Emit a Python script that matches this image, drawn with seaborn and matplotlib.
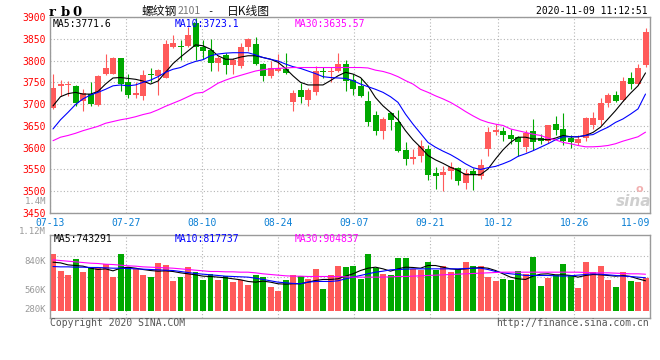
#!/usr/bin/env python3
# coding=utf-8
# rb0 (螺纹钢2101) daily K-line chart with volume panel, sina style

import matplotlib
matplotlib.use("Agg")
from matplotlib import pyplot as plt
import numpy as np
import pandas as pd
import seaborn as sns

# ---- data ----
date_labels = ["07-13", "07-27", "08-10", "08-24", "09-07",
               "09-21", "10-12", "10-26", "11-09"]
date_index = [0, 10, 20, 30, 40, 50, 59, 69, 79]

opens = [3691, 3741, 3743, 3742, 3706, 3723, 3699, 3769, 3770, 3805,
         3750, 3721, 3719, 3768, 3765, 3761, 3830, 3833, 3834, 3887,
         3831, 3824, 3794, 3812, 3789, 3788, 3830, 3839, 3792, 3764,
         3775, 3781, 3704, 3733, 3710, 3728, 3775, 3774, 3776, 3792,
         3756, 3742, 3706, 3675, 3639, 3680, 3658, 3595, 3574, 3580,
         3597, 3542, 3538, 3546, 3554, 3519, 3547, 3534, 3597, 3637,
         3639, 3628, 3624, 3602, 3638, 3622, 3615, 3654, 3643, 3622,
         3611, 3622, 3651, 3664, 3702, 3721, 3709, 3761, 3746, 3790]
highs = [3769, 3756, 3754, 3744, 3734, 3750, 3767, 3816, 3809, 3806,
         3769, 3750, 3778, 3784, 3780, 3847, 3859, 3848, 3878, 3898,
         3848, 3850, 3810, 3818, 3806, 3841, 3851, 3855, 3795, 3800,
         3815, 3817, 3733, 3748, 3736, 3788, 3785, 3785, 3818, 3801,
         3770, 3761, 3730, 3685, 3670, 3683, 3686, 3612, 3597, 3618,
         3605, 3555, 3559, 3567, 3555, 3551, 3553, 3573, 3647, 3654,
         3647, 3643, 3626, 3640, 3666, 3631, 3652, 3673, 3680, 3630,
         3628, 3671, 3683, 3714, 3725, 3730, 3763, 3773, 3793, 3874]
lows = [3689, 3719, 3719, 3696, 3685, 3696, 3696, 3767, 3768, 3729,
        3715, 3715, 3709, 3750, 3721, 3759, 3828, 3802, 3832, 3801,
        3803, 3776, 3777, 3770, 3770, 3783, 3823, 3789, 3752, 3761,
        3773, 3768, 3684, 3702, 3695, 3721, 3760, 3750, 3774, 3729,
        3722, 3717, 3650, 3630, 3620, 3641, 3590, 3561, 3563, 3567,
        3525, 3504, 3500, 3527, 3515, 3504, 3502, 3528, 3580, 3628,
        3615, 3609, 3582, 3591, 3595, 3609, 3610, 3628, 3607, 3600,
        3607, 3615, 3643, 3653, 3693, 3704, 3708, 3734, 3744, 3786]
closes = [3738, 3746, 3744, 3702, 3725, 3700, 3765, 3782, 3807, 3746,
          3722, 3725, 3766, 3766, 3778, 3837, 3840, 3831, 3858, 3832,
          3821, 3794, 3805, 3790, 3801, 3832, 3849, 3791, 3764, 3783,
          3782, 3771, 3725, 3716, 3733, 3776, 3773, 3777, 3792, 3753,
          3734, 3719, 3658, 3639, 3666, 3664, 3592, 3574, 3578, 3603,
          3538, 3536, 3545, 3555, 3523, 3541, 3538, 3561, 3635, 3639,
          3628, 3619, 3612, 3634, 3612, 3615, 3652, 3641, 3615, 3612,
          3619, 3668, 3668, 3702, 3721, 3706, 3752, 3746, 3783, 3866]

ma5 = [3696, 3717, 3724, 3727, 3723, 3723, 3729, 3746, 3760, 3761,
       3759, 3757, 3753, 3746, 3753, 3773, 3793, 3808, 3822, 3836,
       3834, 3826, 3811, 3803, 3803, 3808, 3811, 3811, 3807, 3803,
       3796, 3782, 3765, 3750, 3744, 3744, 3744, 3754, 3765, 3773,
       3769, 3761, 3742, 3715, 3696, 3681, 3664, 3639, 3618, 3601,
       3582, 3572, 3564, 3555, 3548, 3538, 3538, 3538, 3551, 3574,
       3595, 3612, 3624, 3624, 3620, 3620, 3618, 3622, 3628, 3625,
       3625, 3628, 3635, 3647, 3666, 3685, 3706, 3725, 3742, 3771.6]
ma10 = [3643, 3664, 3681, 3699, 3712, 3721, 3727, 3734, 3742, 3744,
        3742, 3744, 3750, 3755, 3763, 3773, 3780, 3784, 3792, 3798,
        3802, 3811, 3815, 3817, 3818, 3818, 3818, 3813, 3807, 3803,
        3799, 3792, 3786, 3782, 3776, 3770, 3763, 3761, 3760, 3759,
        3754, 3746, 3740, 3734, 3727, 3717, 3704, 3677, 3654, 3633,
        3612, 3601, 3592, 3584, 3574, 3563, 3554, 3550, 3554, 3557,
        3563, 3570, 3580, 3586, 3593, 3601, 3609, 3618, 3625, 3625,
        3625, 3628, 3630, 3639, 3647, 3658, 3666, 3677, 3689, 3723.1]
ma30 = [3616, 3624, 3628, 3633, 3639, 3644, 3649, 3656, 3660, 3664,
        3667, 3671, 3676, 3680, 3687, 3695, 3702, 3709, 3717, 3725,
        3727, 3737, 3748, 3755, 3761, 3766, 3771, 3776, 3779, 3781,
        3782, 3783, 3784, 3784, 3784, 3784, 3784, 3784, 3784, 3784,
        3784, 3784, 3783, 3778, 3775, 3770, 3763, 3754, 3746, 3734,
        3727, 3719, 3712, 3704, 3694, 3683, 3673, 3664, 3658, 3654,
        3651, 3643, 3639, 3635, 3631, 3628, 3622, 3618, 3612, 3609,
        3605, 3602, 3602, 3603, 3605, 3609, 3615, 3620, 3625, 3635.57]

# volume, thousand lots
volume = [1405, 980, 890, 1282, 955, 1053, 1053, 1160, 833, 1405,
          1078, 1021, 890, 833, 1184, 1135, 735, 833, 1078, 955,
          768, 915, 768, 858, 711, 751, 645, 874, 833, 588,
          490, 751, 874, 849, 792, 1037, 547, 874, 1103, 1086,
          1103, 792, 1397, 1053, 915, 882, 1299, 1299, 1037, 1005,
          1200, 1005, 1103, 955, 1037, 1200, 1103, 1103, 833, 735,
          784, 760, 972, 915, 1323, 612, 808, 890, 1151, 890,
          563, 1200, 955, 1103, 760, 588, 955, 735, 710, 808]
vol_ma5 = [1200, 1184, 1135, 1119, 1103, 1053, 1021, 1037, 988, 1053,
           1078, 1053, 1021, 996, 980, 988, 972, 939, 915, 890,
           857, 849, 833, 817, 792, 768, 727, 710, 735, 710,
           670, 661, 670, 670, 710, 751, 776, 776, 792, 857,
           915, 996, 1053, 1078, 1037, 980, 1037, 1078, 1070, 1053,
           1119, 1119, 1078, 1037, 1021, 1037, 1053, 1070, 1053, 996,
           915, 833, 792, 776, 857, 906, 915, 890, 890, 874,
           833, 874, 898, 890, 874, 857, 874, 849, 792, 743.291]
vol_ma10 = [1094, 1086, 1086, 1078, 1078, 1070, 1070, 1062, 1053, 1053,
            1045, 1037, 1029, 1021, 1013, 1004, 996, 972, 947, 923,
            906, 890, 874, 857, 849, 841, 833, 808, 776, 743,
            710, 694, 678, 670, 710, 727, 727, 727, 743, 792,
            833, 874, 915, 955, 980, 1013, 1021, 1029, 1037, 1037,
            1037, 1037, 1037, 1037, 1037, 1045, 1053, 1053, 1021, 972,
            939, 915, 898, 874, 874, 874, 874, 866, 857, 866,
            882, 898, 915, 906, 890, 874, 857, 849, 833, 817.737]
vol_ma30 = [1258, 1241, 1225, 1209, 1192, 1176, 1168, 1151, 1143, 1127,
            1111, 1103, 1086, 1078, 1070, 1062, 1053, 1037, 1021, 1004,
            988, 972, 972, 964, 964, 955, 955, 939, 915, 898,
            882, 866, 857, 857, 849, 849, 849, 849, 849, 841,
            833, 833, 833, 833, 833, 841, 849, 849, 857, 866,
            874, 882, 890, 898, 906, 915, 923, 931, 939, 947,
            955, 955, 955, 955, 955, 955, 955, 955, 955, 955,
            955, 947, 939, 939, 939, 931, 923, 915, 915, 904.837]

price_ticks = [3450, 3500, 3550, 3600, 3650, 3700, 3750, 3800, 3850, 3900]
vol_labels = ["1.4M", "1.12M", "840K", "560K", "280K"]

RED = "#ff5a5a"
GREEN = "#00a800"
GRID = "#b4b4b4"
FRAME = "#9a9a9a"
DATE_BLUE = "#0a7fd4"
MONO = "DejaVu Sans Mono"
CJK = ["Noto Sans CJK SC", "DejaVu Sans"]

W, H = 660, 360


def box(x0, y0, x1, y1):
    """pixel box -> figure fraction rect"""
    return [x0 / W, 1 - y1 / H, (x1 - x0) / W, (y1 - y0) / H]


def px(x, y):
    return x / W, 1 - y / H


sns.set_style("white")
plt.rcParams["font.family"] = [MONO, "Noto Sans CJK SC"]

o = np.array(opens)
c = np.array(closes)
days = np.arange(len(closes))
up = c >= o
colors = np.where(up, RED, GREEN)

fig = plt.figure(figsize=(W / 100, H / 100), dpi=100)
fig.patch.set_facecolor("white")
ax = fig.add_axes(box(50, 17, 650, 213))
axv = fig.add_axes(box(50, 235, 650, 318))

# ---- price panel ----
ax.vlines(days, lows, highs, colors=colors, linewidth=0.8, zorder=2)
ax.bar(days, np.maximum(np.abs(c - o), 3), bottom=np.minimum(o, c),
       width=0.8, color=colors, linewidth=0, zorder=2)
sns.lineplot(x=days, y=ma5, color="black", linewidth=0.8, ax=ax, zorder=3)
sns.lineplot(x=days, y=ma10, color="#0000ff", linewidth=0.8, ax=ax, zorder=3)
sns.lineplot(x=days, y=ma30, color="#ff00ff", linewidth=0.8, ax=ax, zorder=3)

xmin, xmax = -0.4, len(closes) - 0.4
tick_pos = xmin + np.array(date_index) * (xmax - xmin) / (len(closes) - 1)

ax.set_xlim(xmin, xmax)
ax.set_ylim(price_ticks[0], price_ticks[-1])
ax.set_yticks(price_ticks)
ax.set_yticklabels([str(t) for t in price_ticks])
ax.set_xticks(tick_pos)
ax.set_xticklabels(date_labels)
ax.get_xticklabels()[-1].set_horizontalalignment("right")
ax.tick_params(axis="y", length=0, pad=3, labelcolor="#ff0000", labelsize=7)
ax.tick_params(axis="x", length=0, pad=3.3, labelcolor=DATE_BLUE, labelsize=7)
ax.set(xlabel="", ylabel="")
ax.set_axisbelow(True)
ax.grid(True, color=GRID, linestyle=(0, (1, 2)), linewidth=0.8)

# ---- volume panel ----
vol_df = pd.DataFrame({"day": days, "vol": volume,
                       "dir": np.where(up, "up", "down")})
sns.barplot(data=vol_df, x="day", y="vol", hue="dir",
            palette={"up": RED, "down": GREEN}, native_scale=True,
            dodge=False, width=0.8, saturation=1, errorbar=None,
            legend=False, linewidth=0, ax=axv)
sns.lineplot(x=days, y=vol_ma5, color="black", linewidth=0.8, ax=axv)
sns.lineplot(x=days, y=vol_ma10, color="#0000ff", linewidth=0.8, ax=axv)
sns.lineplot(x=days, y=vol_ma30, color="#ff00ff", linewidth=0.8, ax=axv)

vlo, vhi = -171.5, 1869
axv.set_xlim(xmin, xmax)
axv.set_ylim(vlo, vhi)
axv.set_xticks(tick_pos)
axv.set_yticks([vlo + f * (vhi - vlo) for f in (0.25, 0.5, 0.75)])
axv.tick_params(length=0, labelleft=False, labelbottom=False)
axv.set(xlabel="", ylabel="")
axv.set_axisbelow(True)
axv.grid(True, color=GRID, linestyle=(0, (1, 2)), linewidth=0.8)

for a in (ax, axv):
    for s in a.spines.values():
        s.set_color(FRAME)
        s.set_linewidth(1.0)

# volume axis labels (drawn where the original puts them)
for lab, y in zip(vol_labels, [201.5, 232, 261, 290.5, 310]):
    fig.text(*px(46, y), lab, ha="right", va="center", color="#999999",
             fontsize=6.5, family=MONO)

# ---- texts ----
for ch, x in zip("rb0", [52, 65, 77]):
    fig.text(*px(x, 12), ch, ha="center", va="center", fontsize=9.5,
             fontweight="bold", family="DejaVu Serif", color="black")
fig.text(*px(142, 11.5), "螺纹钢", ha="left", va="center", fontsize=8.5,
         family=CJK, color="#111111")
fig.text(*px(177.5, 11.5), "2101", ha="left", va="center", fontsize=7.5,
         family=CJK, color="#777777")
fig.text(*px(210.5, 11.5), "-", ha="center", va="center", fontsize=7.5,
         family=MONO, color="#111111")
fig.text(*px(227, 11.5), "日K线图", ha="left", va="center", fontsize=8.5,
         family=CJK, color="#111111")
fig.text(*px(648, 11.5), "2020-11-09 11:12:51", ha="right", va="center",
         fontsize=7, family=MONO, color="black")

fig.text(*px(53, 24), "MA5:%.1f" % ma5[-1], ha="left", va="center",
         fontsize=7, family=MONO, color="black")
fig.text(*px(174.5, 24), "MA10:%.1f" % ma10[-1], ha="left", va="center",
         fontsize=7, family=MONO, color="#0000ff")
fig.text(*px(295, 24), "MA30:%.2f" % ma30[-1], ha="left", va="center",
         fontsize=7, family=MONO, color="#ff00ff")

fig.text(*px(54, 238.7), "MA5:%d" % round(vol_ma5[-1] * 1000), ha="left",
         va="center", fontsize=7, family=MONO, color="black")
fig.text(*px(175, 238.7), "MA10:%d" % round(vol_ma10[-1] * 1000), ha="left",
         va="center", fontsize=7, family=MONO, color="#0000ff")
fig.text(*px(295, 238.7), "MA30:%d" % round(vol_ma30[-1] * 1000), ha="left",
         va="center", fontsize=7, family=MONO, color="#ff00ff")

fig.text(*px(50, 323.5), "Copyright 2020 SINA.COM", ha="left", va="center",
         fontsize=7, family=MONO, color="#555555")
fig.text(*px(649, 323.5), "http://finance.sina.com.cn", ha="right",
         va="center", fontsize=7, family=MONO, color="#555555")

# sina watermark
fig.text(*px(634, 201), "sina", ha="center", va="center", fontsize=11,
         fontweight="bold", style="italic", family="DejaVu Sans",
         color="#cfcfcf")
fig.text(*px(639, 189), "o", ha="center", va="center", fontsize=8,
         fontweight="bold", family="DejaVu Sans", color="#f2b0b0")

fig.savefig("out.png", dpi=100, facecolor="white")
